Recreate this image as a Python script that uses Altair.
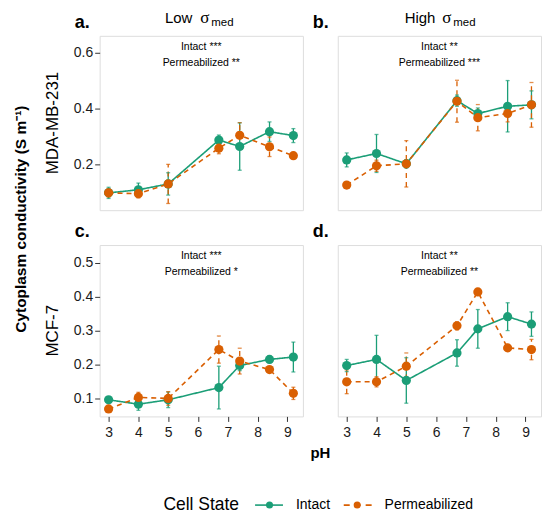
import altair as alt
import pandas as pd

# ---------------- data ----------------
ph = [3, 4, 5, 6.7, 7.4, 8.4, 9.2]

intact_a = [0.097, 0.108, 0.129, 0.286, 0.263, 0.316, 0.302]
intact_a_err = [0.02, 0.024, 0.04, 0.018, 0.085, 0.035, 0.025]
perm_a = [0.097, 0.094, 0.129, 0.257, 0.303, 0.262, 0.23]
perm_a_err = [0.015, 0.015, 0.07, 0.02, 0.045, 0.035, 0.01]

intact_b = [0.215, 0.238, 0.201, 0.427, 0.381, 0.407, 0.412]
intact_b_err = [0.025, 0.068, 0.015, 0.02, 0.02, 0.092, 0.05]
perm_b = [0.125, 0.194, 0.201, 0.425, 0.366, 0.381, 0.412]
perm_b_err = [0.01, 0.02, 0.083, 0.075, 0.047, 0.03, 0.08]

intact_c = [0.096, 0.083, 0.096, 0.132, 0.197, 0.215, 0.222]
intact_c_err = [0.005, 0.018, 0.023, 0.063, 0.015, 0.01, 0.044]
perm_c = [0.069, 0.103, 0.1, 0.244, 0.21, 0.185, 0.115]
perm_c_err = [0.005, 0.015, 0.02, 0.04, 0.038, 0.008, 0.018]

intact_d = [0.197, 0.215, 0.153, 0.234, 0.305, 0.341, 0.319]
intact_d_err = [0.018, 0.071, 0.067, 0.039, 0.057, 0.041, 0.036]
perm_d = [0.149, 0.149, 0.195, 0.314, 0.414, 0.249, 0.244]
perm_d_err = [0.035, 0.015, 0.039, 0.012, 0.005, 0.01, 0.03]

states = ["Intact", "Permeabilized"]
sig_intact = {"a": "Intact ***", "b": "Intact **", "c": "Intact ***", "d": "Intact **"}
sig_perm = {"a": "Permeabilized **", "b": "Permeabilized ***", "c": "Permeabilized *", "d": "Permeabilized **"}
col_titles = {"a": ("Low", "σ", "med"), "b": ("High", "σ", "med")}
row_titles = {"a": "MDA-MB-231", "c": "MCF-7"}
y_title = "Cytoplasm conductivity (S m⁻¹)"
x_title = "pH"
legend_title = "Cell State"

series = {
    "a": (intact_a, intact_a_err, perm_a, perm_a_err),
    "b": (intact_b, intact_b_err, perm_b, perm_b_err),
    "c": (intact_c, intact_c_err, perm_c, perm_c_err),
    "d": (intact_d, intact_d_err, perm_d, perm_d_err),
}

rows = []
for key, (iv, ie, pv, pe) in series.items():
    for vals, errs, st in ((iv, ie, "Intact"), (pv, pe, "Permeabilized")):
        for x, v, e in zip(ph, vals, errs):
            rows.append({"panel": key, "state": st, "pH": x, "value": v,
                         "lo": v - e, "hi": v + e})
df = pd.DataFrame(rows)
one = pd.DataFrame({"k": [0]})

GREEN = "#1B9E77"
ORANGE = "#D95F02"
FONT = "Liberation Sans"
W = 204
H_TOP = 175
H_BOT = 172

color = alt.Color("state:N", scale=alt.Scale(domain=states, range=[GREEN, ORANGE]), legend=None)
dash = alt.StrokeDash("state:N", scale=alt.Scale(domain=states, range=[[1, 0], [5, 4]]), legend=None)


def txt(text, x, y, size=11, weight="normal", align="center", baseline="alphabetic",
        angle=0, font=FONT, color="#000"):
    return alt.Chart(one).mark_text(text=text, fontSize=size, fontWeight=weight, align=align,
                                    baseline=baseline, angle=angle, font=font, color=color).encode(
        x=alt.value(x), y=alt.value(y))


def panel(key, ydom, yvals, show_y, show_x, h):
    base = alt.Chart(df[df.panel == key])
    xaxis = alt.Axis(values=[3, 4, 5, 6, 7, 8, 9], tickSize=5, tickColor="#333", labelFontSize=14,
                     labelColor="#1a1a1a", labelPadding=4, domain=False, grid=False, title=None,
                     labelFont=FONT) if show_x else None
    yaxis = alt.Axis(values=yvals, format=".1f", tickSize=5, tickColor="#333", labelFontSize=14,
                     labelColor="#1a1a1a", labelPadding=2, domain=False, grid=False, title=None,
                     labelFont=FONT) if show_y else None
    xs = alt.Scale(domain=[2.7, 9.52], nice=False, zero=False)
    ys = alt.Scale(domain=ydom, nice=False, zero=False)

    def X():
        return alt.X("pH:Q", scale=xs, axis=xaxis)

    def Y(f):
        return alt.Y(f + ":Q", scale=ys, axis=yaxis)

    err = base.mark_rule(strokeWidth=1.3).encode(x=X(), y=Y("lo"), y2="hi:Q", color=color, strokeDash=dash)
    cap_lo = base.mark_tick(orient="horizontal", size=4, thickness=1.3).encode(x=X(), y=Y("lo"), color=color)
    cap_hi = base.mark_tick(orient="horizontal", size=4, thickness=1.3).encode(x=X(), y=Y("hi"), color=color)
    line = base.mark_line(strokeWidth=1.6).encode(x=X(), y=Y("value"), color=color, strokeDash=dash,
                                                   order="pH:Q")
    pts = base.mark_circle(size=85, opacity=1).encode(x=X(), y=Y("value"), color=color)

    layers = [err, cap_lo, cap_hi, line, pts,
              txt(sig_intact[key], W / 2, 14, size=10.5),
              txt(sig_perm[key], W / 2, 30.5, size=10.5)]
    letter = key + "."
    layers.append(txt(letter, -25, -8, size=18, weight="bold", align="left"))
    if key == "a":
        a, s, m = col_titles["a"]
        layers += [txt(a, 93, -12.5, size=15, align="right"),
                   txt(s, 101, -12.5, size=17, align="left", font="Liberation Serif"),
                   txt(m, 112, -9.5, size=11.5, align="left")]
    if key == "b":
        a, s, m = col_titles["b"]
        layers += [txt(a, 98, -12.5, size=15, align="right"),
                   txt(s, 105, -12.5, size=17, align="left", font="Liberation Serif"),
                   txt(m, 116, -9.5, size=11.5, align="left")]
    if key in row_titles:
        layers.append(txt(row_titles[key], -47, h / 2, size=17, angle=270, baseline="middle"))
    if key == "c":
        layers.append(txt(y_title, -79, -26, size=15.5, weight="bold", angle=270, baseline="middle"))
        layers.append(txt(x_title, W + 17.5, h + 37, size=15, weight="bold", baseline="middle"))
        ly = h + 89
        layers += [
            txt(legend_title, 64, ly, size=17.5, align="left", baseline="middle"),
            alt.Chart(one).mark_rule(color=GREEN, strokeWidth=1.6).encode(
                x=alt.value(156), x2=alt.value(184), y=alt.value(ly)),
            alt.Chart(one).mark_circle(color=GREEN, size=50, opacity=1).encode(
                x=alt.value(170.5), y=alt.value(ly)),
            txt(states[0], 197, ly, size=14, align="left", baseline="middle"),
            alt.Chart(one).mark_rule(color=ORANGE, strokeWidth=1.6, strokeDash=[6, 5]).encode(
                x=alt.value(245), x2=alt.value(273), y=alt.value(ly)),
            alt.Chart(one).mark_circle(color=ORANGE, size=50, opacity=1).encode(
                x=alt.value(258.5), y=alt.value(ly)),
            txt(states[1], 286, ly, size=14, align="left", baseline="middle"),
        ]
    return alt.layer(*layers).properties(width=W, height=h)


pa = panel("a", [0.035, 0.659], [0.2, 0.4, 0.6], True, False, H_TOP)
pb = panel("b", [0.035, 0.659], [0.2, 0.4, 0.6], False, False, H_TOP)
pc = panel("c", [0.047, 0.552], [0.1, 0.2, 0.3, 0.4, 0.5], True, True, H_BOT)
pd_ = panel("d", [0.047, 0.552], [0.1, 0.2, 0.3, 0.4, 0.5], False, True, H_BOT)

chart = alt.concat(pa, pb, pc, pd_, columns=2, spacing=35, bounds="flush").properties(
    padding={"left": 5, "top": 0, "right": 0, "bottom": 0},
    background="white",
).configure_view(stroke="#444", strokeWidth=1.3).configure(font=FONT)

chart.save("out.html", embed_options={"renderer": "svg", "actions": False})
